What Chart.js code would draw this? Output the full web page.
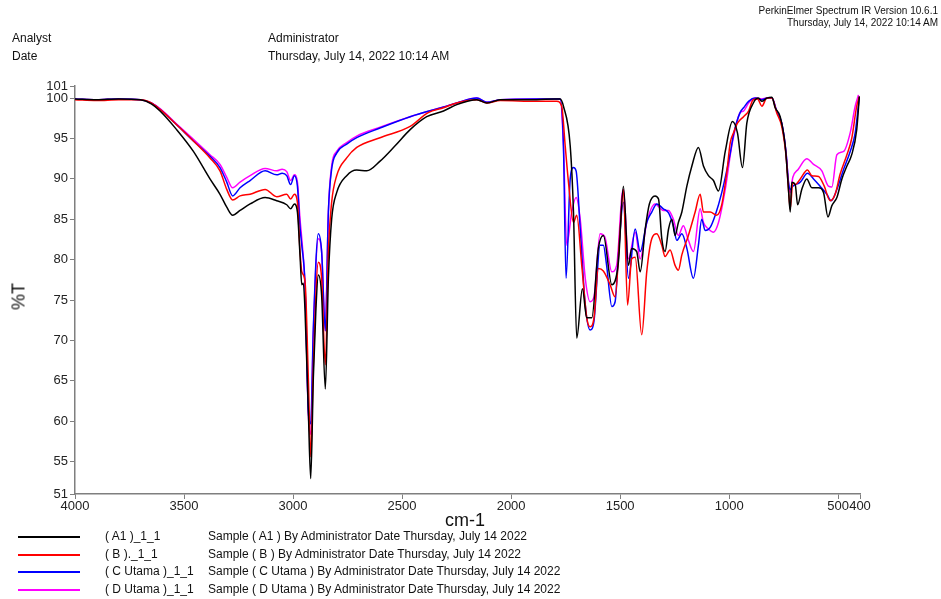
<!DOCTYPE html>
<html>
<head>
<meta charset="utf-8">
<script src="https://cdn.jsdelivr.net/npm/chart.js@4.4.0/dist/chart.umd.min.js"></script>
<style>
  html, body { margin: 0; padding: 0; background: #fff; }
  body { width: 941px; height: 599px; position: relative; overflow: hidden; font-family: "Liberation Sans", Arial, sans-serif; color: #111; }
  #wrap { position: absolute; left: 0; top: 0; width: 941px; height: 599px; }
  .t { position: absolute; white-space: nowrap; }
  .narrow { font-family: "Liberation Sans Narrow", "Liberation Sans", Arial, sans-serif; }
  .lg-line { position: absolute; left: 18px; width: 62px; height: 2px; }
</style>
</head>
<body>
<div id="wrap"><canvas id="ir"></canvas></div>

<div class="t narrow" style="right:3px; top:5px; font-size:10px; text-align:right; line-height:12px;">PerkinElmer Spectrum IR Version 10.6.1<br>Thursday, July 14, 2022 10:14 AM</div>
<div class="t narrow" style="left:12px; top:31px; font-size:12px;">Analyst</div>
<div class="t narrow" style="left:12px; top:49px; font-size:12px;">Date</div>
<div class="t narrow" style="left:268px; top:31px; font-size:12px;">Administrator</div>
<div class="t narrow" style="left:268px; top:49px; font-size:12px;">Thursday, July 14, 2022 10:14 AM</div>

<div class="t" style="left:445px; top:510px; font-size:18px;">cm-1</div>
<div class="t" style="left:4px; top:286px; font-size:18px; transform: rotate(-90deg); transform-origin: 50% 50%; width:30px; text-align:center;">%T</div>

<div id="legend"></div>

<script>
// wavenumbers (cm-1) and %T, one pair of arrays per sample
const wnA1 = [4000, 3900, 3800, 3700, 3650, 3610, 3534, 3457, 3381, 3335, 3304, 3277, 3243, 3197, 3128, 3075, 3029, 3011, 2994, 2980, 2968, 2960, 2953, 2945, 2930, 2919, 2907, 2895, 2884, 2869, 2852, 2838, 2823, 2800, 2754, 2708, 2662, 2601, 2532, 2463, 2387, 2310, 2249, 2157, 2111, 2050, 1950, 1883, 1800, 1775, 1760, 1729, 1714, 1699, 1673, 1653, 1630, 1600, 1577, 1538, 1508, 1485, 1462, 1447, 1424, 1408, 1385, 1366, 1340, 1324, 1309, 1294, 1278, 1263, 1248, 1233, 1217, 1194, 1171, 1141, 1118, 1095, 1072, 1049, 1018, 985, 962, 939, 919, 889, 866, 850, 827, 804, 789, 766, 743, 728, 720, 713, 697, 686, 667, 644, 621, 590, 567, 547, 529, 506, 483, 460, 438, 415, 403];
const tA1 = [99.9, 99.8, 99.9, 99.8, 99.3, 98.4, 96.1, 93.4, 90.0, 88.1, 86.5, 85.5, 86.1, 86.9, 87.7, 87.3, 86.8, 86.3, 86.9, 85.9, 80.5, 76.9, 77.1, 73.6, 61.3, 52.9, 65.4, 74.0, 78.1, 75.6, 64.0, 77.7, 85.0, 88.3, 90.4, 91.1, 91.0, 92.2, 94.1, 96.1, 97.7, 98.4, 99.2, 99.8, 99.4, 99.8, 99.8, 99.8, 99.9, 99.9, 99.0, 94.1, 85.9, 70.3, 76.4, 72.8, 72.8, 81.4, 83.0, 76.9, 79.7, 89.1, 79.3, 81.4, 81.0, 78.5, 83.8, 86.9, 87.9, 87.5, 82.6, 81.0, 83.8, 85.0, 83.0, 84.6, 85.9, 89.1, 91.6, 93.9, 91.6, 90.4, 89.8, 88.5, 93.4, 97.1, 95.7, 91.4, 96.9, 99.4, 100.0, 99.6, 100.0, 100.1, 98.8, 97.7, 94.1, 88.7, 85.9, 89.6, 89.3, 86.8, 88.7, 90.0, 88.9, 88.9, 88.3, 85.3, 86.7, 87.7, 90.0, 91.6, 93.0, 96.1, 100.2];

const wnB = [4000, 3900, 3800, 3700, 3650, 3610, 3534, 3457, 3381, 3335, 3304, 3277, 3243, 3197, 3128, 3075, 3029, 3011, 2994, 2980, 2968, 2960, 2945, 2930, 2919, 2907, 2884, 2869, 2852, 2838, 2823, 2800, 2754, 2708, 2601, 2463, 2380, 2310, 2249, 2157, 2111, 2050, 1883, 1790, 1768, 1752, 1737, 1714, 1699, 1676, 1653, 1638, 1620, 1600, 1577, 1546, 1523, 1500, 1485, 1466, 1447, 1431, 1401, 1378, 1355, 1332, 1309, 1294, 1271, 1248, 1233, 1217, 1187, 1156, 1133, 1118, 1087, 1057, 1034, 1011, 995, 980, 962, 934, 911, 890, 870, 850, 827, 804, 782, 759, 739, 728, 720, 708, 697, 674, 641, 621, 590, 564, 537, 514, 491, 460, 438, 415, 403];
const tB = [99.8, 99.7, 99.8, 99.8, 99.4, 98.6, 96.7, 94.7, 92.6, 91.0, 88.7, 87.4, 87.9, 88.1, 88.7, 87.8, 88.1, 87.5, 88.1, 87.1, 81.0, 78.5, 77.3, 65.4, 55.6, 66.9, 79.7, 77.7, 67.0, 81.0, 87.1, 90.4, 92.6, 93.9, 95.1, 96.5, 98.2, 98.8, 99.4, 99.8, 99.4, 99.7, 99.6, 99.6, 99.0, 94.1, 89.6, 84.6, 85.5, 79.3, 72.8, 71.7, 72.8, 78.9, 78.6, 76.9, 75.4, 83.8, 88.7, 74.4, 80.1, 80.3, 70.7, 78.5, 82.6, 83.2, 81.8, 80.4, 81.2, 79.3, 78.7, 80.6, 83.0, 85.9, 88.1, 85.9, 85.9, 85.5, 86.8, 90.8, 94.5, 95.7, 96.9, 97.7, 98.4, 99.8, 99.9, 99.0, 100.0, 100.0, 98.2, 96.5, 92.8, 88.7, 86.3, 89.6, 89.3, 90.0, 91.1, 90.4, 90.3, 89.1, 87.3, 88.1, 90.6, 93.0, 95.0, 99.0, 100.2];

const wnC = [4000, 3900, 3800, 3700, 3650, 3610, 3534, 3457, 3381, 3335, 3304, 3277, 3243, 3197, 3128, 3075, 3050, 3029, 3011, 2994, 2980, 2968, 2960, 2945, 2930, 2919, 2907, 2884, 2869, 2852, 2838, 2823, 2800, 2754, 2708, 2601, 2463, 2310, 2249, 2157, 2111, 2050, 1883, 1775, 1760, 1748, 1729, 1714, 1702, 1683, 1660, 1638, 1620, 1592, 1577, 1562, 1538, 1523, 1508, 1485, 1462, 1431, 1408, 1378, 1355, 1332, 1302, 1278, 1256, 1240, 1217, 1194, 1164, 1141, 1126, 1110, 1087, 1064, 1034, 995, 980, 950, 934, 911, 880, 850, 827, 804, 782, 759, 739, 728, 720, 708, 674, 641, 613, 583, 552, 532, 506, 475, 445, 422, 403];
const tC = [99.9, 99.8, 99.9, 99.8, 99.4, 98.6, 96.7, 94.7, 92.8, 91.4, 89.6, 87.9, 88.9, 89.8, 91.0, 90.5, 90.7, 90.4, 89.3, 90.4, 89.1, 84.0, 81.8, 76.9, 61.3, 59.7, 71.5, 83.2, 81.0, 71.2, 85.9, 91.2, 93.2, 94.3, 95.1, 96.3, 97.7, 98.9, 99.4, 100.0, 99.5, 99.8, 99.9, 99.9, 94.1, 77.7, 90.0, 91.4, 91.0, 83.8, 74.4, 71.3, 72.4, 81.8, 81.8, 79.3, 74.2, 74.8, 80.5, 87.1, 77.7, 83.8, 81.0, 84.6, 85.9, 86.9, 86.3, 85.8, 84.2, 82.4, 83.2, 81.4, 77.7, 81.8, 85.0, 83.6, 84.0, 85.5, 88.3, 93.2, 95.5, 98.2, 98.8, 99.6, 100.0, 99.8, 100.0, 100.0, 98.4, 96.9, 93.2, 89.6, 88.7, 89.1, 89.6, 90.7, 90.0, 89.1, 88.1, 87.3, 88.7, 91.2, 93.4, 95.7, 100.2];

const wnD = [4000, 3900, 3800, 3700, 3650, 3610, 3534, 3457, 3381, 3335, 3304, 3277, 3243, 3197, 3128, 3075, 3050, 3029, 3011, 2994, 2980, 2968, 2960, 2945, 2930, 2919, 2907, 2884, 2869, 2852, 2838, 2823, 2800, 2754, 2708, 2601, 2463, 2310, 2249, 2157, 2111, 2050, 1883, 1775, 1760, 1745, 1722, 1702, 1683, 1660, 1638, 1620, 1592, 1570, 1538, 1516, 1492, 1485, 1462, 1431, 1408, 1378, 1340, 1302, 1278, 1256, 1233, 1210, 1187, 1164, 1133, 1118, 1095, 1072, 1049, 1018, 988, 950, 934, 911, 880, 850, 827, 804, 782, 759, 739, 727, 720, 708, 683, 644, 613, 575, 545, 529, 506, 475, 445, 422, 407];
const tD = [99.9, 99.8, 99.9, 99.8, 99.4, 98.7, 96.8, 94.9, 93.0, 91.8, 90.2, 88.9, 89.6, 90.4, 91.3, 91.0, 91.2, 90.9, 89.8, 90.5, 89.6, 85.0, 82.6, 76.5, 61.0, 58.4, 71.0, 82.6, 81.0, 71.2, 86.0, 91.6, 93.4, 94.5, 95.3, 96.4, 97.7, 98.9, 99.4, 100.0, 99.5, 99.8, 99.9, 99.9, 94.1, 81.8, 85.9, 87.7, 85.0, 77.7, 74.8, 75.4, 83.2, 82.8, 78.5, 79.3, 87.9, 88.7, 80.1, 83.4, 80.1, 84.6, 86.9, 86.1, 86.1, 85.0, 83.0, 84.2, 82.4, 81.0, 86.3, 84.6, 83.8, 83.4, 84.6, 88.7, 94.1, 98.2, 98.4, 99.4, 100.0, 99.9, 100.0, 100.0, 98.4, 96.9, 93.2, 89.3, 88.3, 90.2, 91.2, 92.5, 91.8, 91.0, 89.1, 89.0, 93.0, 93.4, 95.7, 99.0, 100.4];

const xTicks = [4000, 3500, 3000, 2500, 2000, 1500, 1000, 500, 400];
// the axis runs to 101.5; the instrument labels that end "101"
const yMin = 51;
const yMax = 101.5;
const yTicks = [51, 55, 60, 65, 70, 75, 80, 85, 90, 95, 100, 101.5];

const seriesNames = ['( A1 )_1_1', '( B )._1_1', '( C Utama )_1_1', '( D Utama )_1_1'];
const seriesNotes = [
  'Sample ( A1 ) By Administrator Date Thursday, July 14 2022',
  'Sample ( B ) By Administrator Date Thursday, July 14 2022',
  'Sample ( C Utama ) By Administrator Date Thursday, July 14 2022',
  'Sample ( D Utama ) By Administrator Date Thursday, July 14 2022'
];
const seriesColors = ['#000000', '#ff0000', '#0000ff', '#ff00ff'];

const toPoints = (wn, t) => wn.map((x, i) => ({ x: x, y: t[i] }));
const allSeries = [[wnA1, tA1], [wnB, tB], [wnC, tC], [wnD, tD]];

// legend below the plot, drawn as plain html
const legend = document.getElementById('legend');
seriesNames.forEach((name, i) => {
  const top = 537 + i * 17.5;
  const line = document.createElement('div');
  line.className = 'lg-line';
  line.style.top = (top - 1) + 'px';
  line.style.background = seriesColors[i];
  legend.appendChild(line);

  const a = document.createElement('div');
  a.className = 't';
  a.style.cssText = `left:105px; top:${top - 8}px; font-size:12px;`;
  a.textContent = name;
  legend.appendChild(a);

  const b = document.createElement('div');
  b.className = 't';
  b.style.cssText = `left:208px; top:${top - 8}px; font-size:12px;`;
  b.textContent = seriesNotes[i];
  legend.appendChild(b);
});

const datasets = allSeries.map((s, i) => ({
  label: seriesNames[i],
  data: toPoints(s[0], s[1]),
  borderColor: seriesColors[i],
  borderWidth: 1.5,
  pointRadius: 0,
  fill: false,
  cubicInterpolationMode: 'monotone'
}));

const axisColor = '#7f7f7f';
const tickFont = { family: 'Liberation Sans, Arial, sans-serif', size: 13 };

new Chart(document.getElementById('ir'), {
  type: 'line',
  data: { datasets: datasets },
  options: {
    responsive: true,
    maintainAspectRatio: false,
    animation: false,
    events: [],
    layout: { padding: { left: 35, right: 81, top: 86, bottom: 75 } },
    plugins: { legend: { display: false }, tooltip: { enabled: false } },
    scales: {
      x: {
        type: 'linear',
        reverse: true,
        min: 400,
        max: 4000,
        afterBuildTicks: (scale) => { scale.ticks = xTicks.map(v => ({ value: v })); },
        afterFit: (scale) => { scale.height = 30; },
        ticks: { font: tickFont, color: '#222', maxRotation: 0, autoSkip: false, padding: 0, callback: v => String(v) },
        grid: { drawOnChartArea: false, color: axisColor, tickLength: 5 },
        border: { color: axisColor, width: 1.5 }
      },
      y: {
        min: yMin,
        max: yMax,
        afterBuildTicks: (scale) => { scale.ticks = yTicks.map(v => ({ value: v })); },
        afterFit: (scale) => { scale.width = 40; },
        ticks: { font: tickFont, color: '#222', autoSkip: false, padding: 2, callback: v => String(Math.floor(v)) },
        grid: { drawOnChartArea: false, color: axisColor, tickLength: 5 },
        border: { color: axisColor, width: 1.5 }
      }
    }
  }
});
</script>
</body>
</html>
